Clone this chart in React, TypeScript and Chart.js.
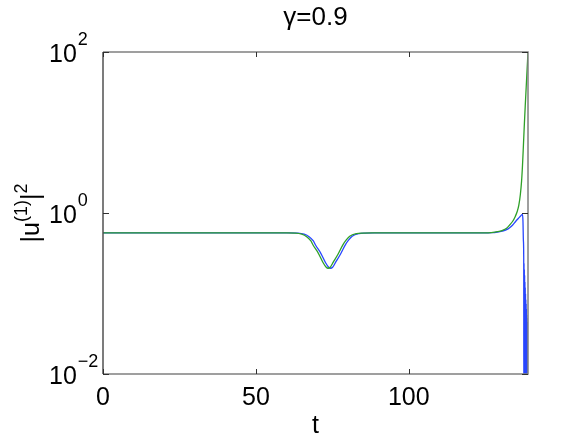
import { useEffect, useRef } from "react";
import { Chart, registerables } from "chart.js";

Chart.register(...registerables);

const titleText = "γ=0.9";
const xLabel = "t";
const xTicks = [0, 50, 100];
const yTicks = [0.01, 1, 100];
const yTickExps = ["−2", "0", "2"];

const greenT = [0, 20, 40, 55, 60, 63, 65, 66.6, 68, 68.7, 70.4, 72, 73, 73.6, 74.3, 75.3, 76.9, 78.5, 79.5, 80.7, 82.9, 85, 88, 100, 115, 125, 127, 129, 130.5, 132, 133, 134, 134.8, 135.5, 136, 136.5, 136.9, 137.2, 137.5, 137.8, 138.1, 138.4, 138.7, 139];
const greenV = [0.565, 0.565, 0.565, 0.565, 0.565, 0.562, 0.545, 0.508, 0.45, 0.4, 0.318, 0.241, 0.212, 0.206, 0.212, 0.245, 0.31, 0.405, 0.46, 0.515, 0.555, 0.563, 0.565, 0.565, 0.565, 0.566, 0.572, 0.586, 0.605, 0.645, 0.71, 0.79, 0.9, 1.05, 1.25, 1.7, 2.5, 3.9, 6.9, 12.5, 21.5, 36, 60, 100];

const blueT = [0, 20, 40, 55, 60.8, 63.8, 65.8, 67.4, 68.8, 69.5, 71.2, 72.8, 73.8, 74.4, 75.1, 76.1, 77.7, 79.3, 80.3, 81.5, 83.7, 85.8, 88.8, 100, 115, 125, 127, 129, 130.5, 132, 133, 134, 135, 136, 136.6, 137.2, 137.35, 137.5, 137.6,
  137.65, 137.7, 137.75, 137.8, 137.85, 137.9, 137.95, 138.0, 138.05, 138.1, 138.15, 138.2, 138.25, 138.3, 138.35, 138.4, 138.45, 138.5, 138.55, 138.6, 138.65, 138.7, 138.75, 138.8, 138.85, 138.9, 138.95, 139.0];
const blueV = [0.565, 0.565, 0.565, 0.565, 0.565, 0.562, 0.545, 0.508, 0.45, 0.4, 0.318, 0.241, 0.212, 0.206, 0.212, 0.245, 0.31, 0.405, 0.46, 0.515, 0.555, 0.563, 0.565, 0.565, 0.565, 0.566, 0.569, 0.58, 0.595, 0.62, 0.655, 0.71, 0.79, 0.87, 0.92, 0.96, 0.8, 0.45, 0.28,
  0.003, 0.24, 0.003, 0.2, 0.003, 0.17, 0.003, 0.14, 0.003, 0.12, 0.003, 0.1, 0.003, 0.085, 0.003, 0.075, 0.003, 0.065, 0.003, 0.055, 0.003, 0.05, 0.003, 0.045, 0.003, 0.04, 0.003, 0.035];

const FONT = '"Liberation Sans", Arial, Helvetica, sans-serif';

const decor = {
  id: "decor",
  afterDatasetsDraw(chart: any) {
    const { ctx, chartArea: a, scales } = chart;
    const xs = scales.x;
    const ys = scales.y;
    ctx.save();
    // frame
    ctx.lineWidth = 1.5;
    ctx.strokeStyle = "#808080";
    ctx.beginPath();
    ctx.moveTo(a.left, a.bottom);
    ctx.lineTo(a.right, a.bottom);
    ctx.lineTo(a.right, a.top);
    ctx.lineTo(a.left, a.top);
    ctx.stroke();
    ctx.strokeStyle = "#505050";
    ctx.beginPath();
    ctx.moveTo(a.left, a.top);
    ctx.lineTo(a.left, a.bottom);
    ctx.stroke();
    // tick marks
    ctx.strokeStyle = "#303030";
    ctx.lineWidth = 1;
    ctx.beginPath();
    xTicks.forEach((v) => {
      const px = Math.round(xs.getPixelForValue(v)) + 0.5;
      ctx.moveTo(px, a.bottom);
      ctx.lineTo(px, a.bottom - 5);
      ctx.moveTo(px, a.top);
      ctx.lineTo(px, a.top + 5);
    });
    yTicks.forEach((v) => {
      const py = Math.round(ys.getPixelForValue(v)) + 0.5;
      ctx.moveTo(a.left, py);
      ctx.lineTo(a.left + 6, py);
      ctx.moveTo(a.right, py);
      ctx.lineTo(a.right - 6, py);
    });
    ctx.stroke();
    // x tick labels
    ctx.fillStyle = "#000";
    ctx.font = `25px ${FONT}`;
    ctx.textAlign = "center";
    ctx.textBaseline = "alphabetic";
    xTicks.forEach((v) => {
      ctx.fillText(String(v), xs.getPixelForValue(v), a.bottom + 31);
    });
    // x label
    ctx.fillText(xLabel, (a.left + a.right) / 2, a.bottom + 59);
    // y tick labels
    ctx.textAlign = "left";
    yTicks.forEach((v, i) => {
      const py = ys.getPixelForValue(v);
      ctx.font = `25px ${FONT}`;
      ctx.fillText("10", 49, py + 10);
      const w = ctx.measureText("10").width;
      ctx.font = `18px ${FONT}`;
      ctx.fillText(yTickExps[i], 49 + w + 1, py - 7);
    });
    // y label (rotated)
    ctx.save();
    ctx.translate(39, (a.top + a.bottom) / 2);
    ctx.rotate(-Math.PI / 2);
    const segs: [string, number, number][] = [
      ["|u", 25, 0],
      ["(1)", 18, -12],
      ["|", 25, 0],
      ["2", 18, -12],
    ];
    let total = 0;
    segs.forEach(([s, f]) => {
      ctx.font = `${f}px ${FONT}`;
      total += ctx.measureText(s).width;
    });
    let cx = -total / 2;
    segs.forEach(([s, f, dy]) => {
      ctx.font = `${f}px ${FONT}`;
      ctx.fillText(s, cx, dy);
      cx += ctx.measureText(s).width;
    });
    ctx.restore();
    // title
    ctx.textAlign = "center";
    ctx.textBaseline = "alphabetic";
    ctx.fillStyle = "#000";
    ctx.font = `26px ${FONT}`;
    ctx.fillText(titleText, (a.left + a.right) / 2, 25);
    ctx.restore();
  },
};

export default function App() {
  const ref = useRef<HTMLCanvasElement | null>(null);
  useEffect(() => {
    if (!ref.current) return;
    const green = greenT.map((t, i) => ({ x: t, y: greenV[i] }));
    const blue = blueT.map((t, i) => ({ x: t, y: blueV[i] }));
    const chart = new Chart(ref.current, {
      type: "line",
      data: {
        datasets: [
          {
            data: green,
            borderColor: "rgb(46,160,40)",
            borderWidth: 1.3,
            pointRadius: 0,
            cubicInterpolationMode: "monotone",
            order: 0,
          },
          {
            data: blue,
            borderColor: "rgb(40,70,255)",
            borderWidth: 1.3,
            pointRadius: 0,
            cubicInterpolationMode: "monotone",
            order: 1,
          },
        ],
      },
      options: {
        responsive: false,
        animation: false,
        events: [],
        layout: { padding: { left: 103, top: 52, right: 56, bottom: 65 } },
        plugins: { legend: { display: false }, tooltip: { enabled: false }, title: { display: false } },
        scales: {
          x: { type: "linear", min: 0, max: 139, display: false },
          y: { type: "logarithmic", min: 0.01, max: 100, display: false },
        },
      },
      plugins: [decor],
    });
    return () => chart.destroy();
  }, []);
  return (
    <div style={{ position: "absolute", left: 0, top: 0, width: 584, height: 439, background: "#fff" }}>
      <canvas ref={ref} width={584} height={439} style={{ display: "block" }} />
    </div>
  );
}
